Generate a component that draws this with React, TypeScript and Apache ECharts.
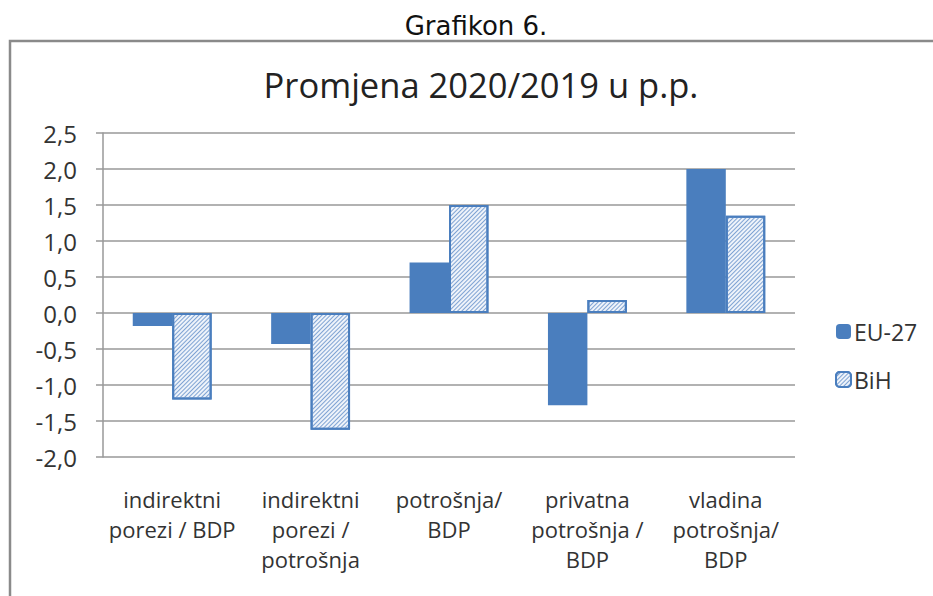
import React, { useEffect, useRef } from "react";
import * as echarts from "echarts";

const categories = [
  "indirektni\nporezi / BDP",
  "indirektni\nporezi /\npotrošnja",
  "potrošnja/\nBDP",
  "privatna\npotrošnja /\nBDP",
  "vladina\npotrošnja/\nBDP",
];
const seriesNames = ["EU-27", "BiH"];
const euValues = [-0.18, -0.43, 0.7, -1.28, 2.0];
const bihValues = [-1.2, -1.62, 1.5, 0.18, 1.35];
const chartTitle = "Promjena 2020/2019 u p.p.";
const pageTitle = "Grafikon 6.";

const BLUE = "#4A7EBE";
const FONT = "'Open Sans', 'Noto Sans', sans-serif";

export default function App() {
  const ref = useRef<HTMLDivElement>(null);
  useEffect(() => {
    document.body.style.margin = "0";
    const chart = echarts.init(ref.current!, null, { renderer: "svg" });
    chart.setOption({
      animation: false,
      backgroundColor: "#ffffff",
      title: [
        {
          text: pageTitle,
          left: 471,
          top: 8,
          textAlign: "center",
          textStyle: { fontFamily: "'DejaVu Sans', sans-serif", fontSize: 26, fontWeight: "normal", color: "#111" },
        },
        {
          text: chartTitle,
          left: 476,
          top: 62,
          textAlign: "center",
          textStyle: { fontFamily: FONT, fontSize: 34.5, fontWeight: "normal", color: "#222" },
        },
      ],
      graphic: [
        {
          type: "rect",
          shape: { x: 10, y: 41, width: 960, height: 620 },
          style: { fill: "none", stroke: "#8a8a8a", lineWidth: 2.5 },
          silent: true,
        },
      ],
      legend: {
        orient: "vertical",
        left: 830,
        top: 315,
        itemWidth: 15,
        itemHeight: 15,
        itemGap: 25,
        textStyle: { fontFamily: FONT, fontSize: 23, color: "#333", padding: [0, 0, 0, -2] },
        data: seriesNames,
      },
      grid: { left: 103, right: 138, top: 133, bottom: 139, containLabel: false },
      xAxis: {
        type: "category",
        data: categories,
        axisLine: { show: false },
        axisTick: { show: false },
        axisLabel: {
          interval: 0,
          margin: 27,
          fontFamily: FONT,
          fontSize: 22,
          lineHeight: 30,
          color: "#333",
        },
      },
      yAxis: {
        type: "value",
        min: -2,
        max: 2.5,
        interval: 0.5,
        axisLine: { show: true, lineStyle: { color: "#999", width: 1.5 } },
        axisTick: { show: true, length: 7, lineStyle: { color: "#999", width: 1.5 } },
        splitLine: { lineStyle: { color: "#999", width: 1.5 } },
        axisLabel: {
          margin: 26,
          fontFamily: FONT,
          fontSize: 24,
          color: "#333",
          formatter: (v: number) => v.toFixed(1).replace(".", ","),
        },
      },
      series: [
        {
          name: seriesNames[0],
          type: "bar",
          data: euValues,
          barGap: "0%",
          barCategoryGap: "43%",
          itemStyle: { color: BLUE },
        },
        {
          name: seriesNames[1],
          type: "bar",
          data: bihValues,
          itemStyle: {
            color: "#eef3fa",
            borderColor: BLUE,
            borderWidth: 2,
            decal: {
              symbol: "rect",
              symbolSize: 1,
              dashArrayX: [1, 0],
              dashArrayY: [1, 2],
              rotation: -Math.PI / 4,
              color: "#7fa3d3",
            },
          },
        },
      ],
    });
    return () => chart.dispose();
  }, []);
  return <div ref={ref} style={{ width: 933, height: 596 }} />;
}
